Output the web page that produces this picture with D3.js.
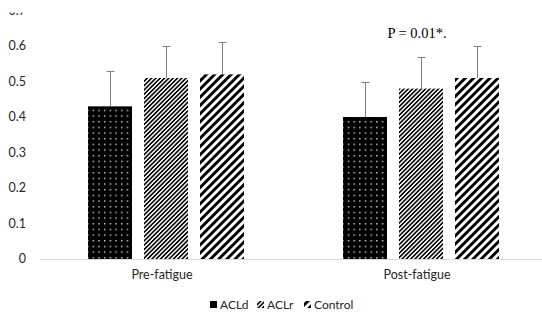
<!DOCTYPE html>
<html><head><meta charset="utf-8">
<script src="https://cdn.jsdelivr.net/npm/d3@7"></script>
<style>body{margin:0;background:#fff}svg{display:block}</style>
</head><body>
<svg id="c" width="542" height="320"></svg>
<script>
const categories = ["Pre-fatigue", "Post-fatigue"];
const series = ["ACLd", "ACLr", "Control"];
const meanACLd = [0.43, 0.40];
const meanACLr = [0.51, 0.48];
const meanControl = [0.52, 0.51];
const sdACLd = [0.10, 0.10];
const sdACLr = [0.09, 0.09];
const sdControl = [0.09, 0.09];
const yTicks = [0, 0.1, 0.2, 0.3, 0.4, 0.5, 0.6, 0.7];
const annotation = "P = 0.01*.";

const means = {ACLd: meanACLd, ACLr: meanACLr, Control: meanControl};
const sds = {ACLd: sdACLd, ACLr: sdACLr, Control: sdControl};

const svg = d3.select("#c");
const defs = svg.append("defs");

// patterns
const pDots = defs.append("pattern").attr("id","pDots").attr("patternUnits","userSpaceOnUse")
  .attr("width",5.67).attr("height",5.67);
pDots.append("rect").attr("width",5.67).attr("height",5.67).attr("fill","#000");
pDots.append("rect").attr("x",2).attr("y",2).attr("width",1.3).attr("height",1.3).attr("fill","#fff");

const pNarrow = defs.append("pattern").attr("id","pNarrow").attr("patternUnits","userSpaceOnUse")
  .attr("width",3.05).attr("height",10).attr("patternTransform","rotate(45)");
pNarrow.append("rect").attr("width",3.05).attr("height",10).attr("fill","#fff");
pNarrow.append("rect").attr("width",1.6).attr("height",10).attr("fill","#000");

const pWide = defs.append("pattern").attr("id","pWide").attr("patternUnits","userSpaceOnUse")
  .attr("width",5.8).attr("height",10).attr("patternTransform","rotate(45)");
pWide.append("rect").attr("width",5.8).attr("height",10).attr("fill","#fff");
pWide.append("rect").attr("width",2.9).attr("height",10).attr("fill","#000");

const fills = {ACLd:"url(#pDots)", ACLr:"url(#pNarrow)", Control:"url(#pWide)"};

const x0 = d3.scaleBand().domain(categories).range([38.5, 548.5]);
const x1 = d3.scaleBand().domain(series).range([-78, 78]).paddingInner(12/56).paddingOuter(0);
const y = d3.scaleLinear().domain([0, 0.7]).range([259, 10.5]);

const font = "Lato, 'Open Sans', sans-serif";
const txt = "#262626";

// y tick labels
svg.append("g").selectAll("text").data(yTicks).join("text")
  .attr("x", 26).attr("y", d => y(d)).attr("dy","0.35em")
  .attr("text-anchor","end").attr("font-family",font).attr("font-size",12.5)
  .attr("fill",txt).text(d => d === 0 ? "0" : d.toFixed(1));

// bars
const g = svg.append("g");
categories.forEach((c, i) => {
  series.forEach(s => {
    const v = means[s][i];
    const bx = x0(c) + x0.bandwidth()/2 + x1(s);
    g.append("rect").attr("x", bx).attr("y", y(v))
      .attr("width", x1.bandwidth()).attr("height", y(0) - y(v))
      .attr("fill", fills[s]);
    const cx = Math.round(bx + x1.bandwidth()/2) + 0.5;
    const top = Math.round(y(v + sds[s][i])) + 0.5;
    g.append("line").attr("x1",cx).attr("x2",cx).attr("y1",y(v)).attr("y2",top)
      .attr("stroke","#7f7f7f").attr("stroke-width",1);
    g.append("line").attr("x1",cx-4).attr("x2",cx+4).attr("y1",top).attr("y2",top)
      .attr("stroke","#7f7f7f").attr("stroke-width",1);
  });
});

// x axis line
svg.append("line").attr("x1",40).attr("x2",542).attr("y1",259.5).attr("y2",259.5)
  .attr("stroke","#d9d9d9").attr("stroke-width",1);

// category labels
svg.append("g").selectAll("text").data(categories).join("text")
  .attr("x", d => x0(d) + x0.bandwidth()/2 - 4).attr("y", 279)
  .attr("text-anchor","middle").attr("font-family",font).attr("font-size",12.5)
  .attr("fill",txt).text(d => d);

// annotation
svg.append("text").attr("x", x0("Post-fatigue") + x0.bandwidth()/2 - 4).attr("y", 38)
  .attr("text-anchor","middle").attr("font-family","'Liberation Serif', serif")
  .attr("font-size",14.5).attr("fill","#000").text(annotation);

// legend
const legendX = [210, 257, 304];
const lg = svg.append("g");
series.forEach((s, i) => {
  lg.append("rect").attr("x", legendX[i]).attr("y", 301).attr("width",7).attr("height",7)
    .attr("fill", s === "ACLd" ? "#000" : fills[s]);
  lg.append("text").attr("x", legendX[i] + 10).attr("y", 308.5)
    .attr("font-family",font).attr("font-size",12).attr("fill",txt).text(s);
});

// top crop cover (reference is clipped at the top)
svg.append("rect").attr("x",0).attr("y",0).attr("width",40).attr("height",12.5).attr("fill","#fff");
</script>
</body></html>
